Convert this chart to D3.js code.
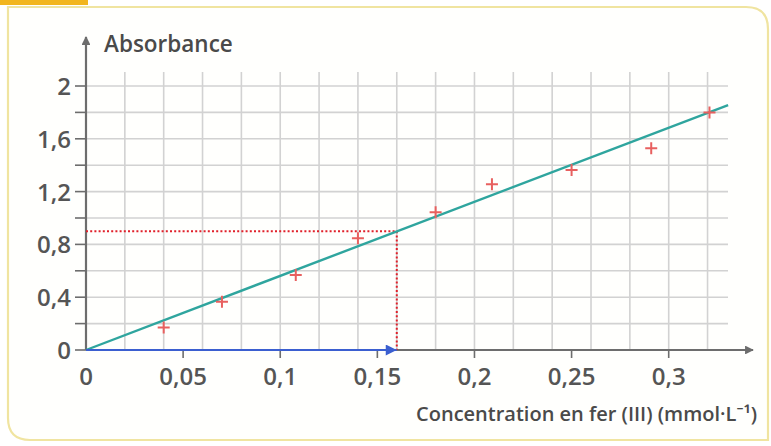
<!DOCTYPE html>
<html>
<head>
<meta charset="utf-8">
<script src="https://cdn.jsdelivr.net/npm/d3@7"></script>
<style>
  html, body { margin: 0; padding: 0; background: #ffffff; }
  svg { display: block; }
</style>
</head>
<body>
<svg id="chart" width="771" height="446"></svg>
<script>
// ---- data ----
const concentrations = [0.04, 0.07, 0.108, 0.14, 0.18, 0.209, 0.25, 0.291, 0.321];
const absorbances    = [0.17, 0.366, 0.568, 0.846, 1.043, 1.255, 1.364, 1.528, 1.80];
const fitLine = [[0, 0], [0.3306, 1.856]];
const readX = [0.16];
const readY = [0.9];
const xTickValues = [0, 0.05, 0.1, 0.15, 0.2, 0.25, 0.3];
const xTickLabels = ["0", "0,05", "0,1", "0,15", "0,2", "0,25", "0,3"];
const yTickValues = [0, 0.4, 0.8, 1.2, 1.6, 2];
const yTickLabels = ["0", "0,4", "0,8", "1,2", "1,6", "2"];
const yMinorTicks = [0, 0.2, 0.4, 0.6, 0.8, 1.0, 1.2, 1.4, 1.6, 1.8, 2.0];
const xGrid = [0.02, 0.04, 0.06, 0.08, 0.1, 0.12, 0.14, 0.16, 0.18, 0.2, 0.22, 0.24, 0.26, 0.28, 0.3, 0.32];
const yGrid = [0.2, 0.4, 0.6, 0.8, 1.0, 1.2, 1.4, 1.6, 1.8, 2.0];
const yTitle = "Absorbance";
const xTitle = "Concentration en fer (III) (mmol·L⁻¹)";

// ---- scales ----
const x = d3.scaleLinear().domain([0, 0.3]).range([86, 668.7]);
const y = d3.scaleLinear().domain([0, 2]).range([350, 86]);

const svg = d3.select("#chart");
const font = "'Open Sans', 'Noto Sans', sans-serif";

// ---- frame ----
const fx0 = 8, fy0 = 7, fx1 = 768, fy1 = 440, r = 22;
svg.append("path")
  .attr("d", `M${fx0},${fy0} L${fx1 - r},${fy0} Q${fx1},${fy0} ${fx1},${fy0 + r} L${fx1},${fy1} L${fx0 + r},${fy1} Q${fx0},${fy1} ${fx0},${fy1 - r} Z`)
  .attr("fill", "#fffffd")
  .attr("stroke", "#f0e4a0")
  .attr("stroke-width", 2.2);
svg.append("rect").attr("x", 0).attr("y", 0).attr("width", 88).attr("height", 5).attr("fill", "#f2b51d");

const defs = svg.append("defs");
defs.append("marker").attr("id", "grayArrow")
  .attr("viewBox", "0 0 10 10").attr("refX", 9).attr("refY", 5)
  .attr("markerWidth", 4).attr("markerHeight", 4).attr("orient", "auto")
  .append("path").attr("d", "M0,0 L10,5 L0,10 Z").attr("fill", "#6d6d6d");
defs.append("marker").attr("id", "blueArrow")
  .attr("viewBox", "0 0 10 10").attr("refX", 10).attr("refY", 5)
  .attr("markerWidth", 6).attr("markerHeight", 5).attr("orient", "auto")
  .attr("markerUnits", "strokeWidth")
  .append("path").attr("d", "M0,0 L10,5 L0,10 Z").attr("fill", "#3b5fd0");

// ---- grid ----
const gridTop = 72, gridRight = 728;
svg.append("g").selectAll("line").data(xGrid).join("line")
  .attr("x1", d => x(d)).attr("x2", d => x(d))
  .attr("y1", y(0)).attr("y2", gridTop)
  .attr("stroke", "#d2d2d2").attr("stroke-width", 1.6);
svg.append("g").selectAll("line").data(yGrid).join("line")
  .attr("x1", x(0)).attr("x2", gridRight)
  .attr("y1", d => y(d)).attr("y2", d => y(d))
  .attr("stroke", "#d2d2d2").attr("stroke-width", 1.6);

// ---- y ticks ----
svg.append("g").selectAll("line").data(yMinorTicks).join("line")
  .attr("x1", 75).attr("x2", x(0))
  .attr("y1", d => y(d)).attr("y2", d => y(d))
  .attr("stroke", "#6d6d6d").attr("stroke-width", 1.6);
svg.append("g").selectAll("text").data(yTickValues).join("text")
  .attr("x", 71).attr("y", d => y(d) + 9)
  .attr("text-anchor", "end")
  .attr("font-family", font).attr("font-size", 24).attr("font-weight", 600)
  .attr("fill", "#555").text((d, i) => yTickLabels[i]);

// ---- x ticks ----
svg.append("g").selectAll("line").data(xTickValues.slice(1)).join("line")
  .attr("x1", d => x(d)).attr("x2", d => x(d))
  .attr("y1", y(0)).attr("y2", y(0) + 8)
  .attr("stroke", "#6d6d6d").attr("stroke-width", 1.6);
svg.append("g").selectAll("text").data(xTickValues).join("text")
  .attr("x", d => x(d)).attr("y", 385)
  .attr("text-anchor", "middle")
  .attr("font-family", font).attr("font-size", 24).attr("font-weight", 600)
  .attr("fill", "#555").text((d, i) => xTickLabels[i]);

// ---- axes ----
svg.append("line").attr("x1", x(0)).attr("x2", x(0)).attr("y1", y(0)).attr("y2", 37)
  .attr("stroke", "#6d6d6d").attr("stroke-width", 2.2).attr("marker-end", "url(#grayArrow)");
svg.append("line").attr("x1", x(0)).attr("x2", 753).attr("y1", y(0)).attr("y2", y(0))
  .attr("stroke", "#6d6d6d").attr("stroke-width", 2.2).attr("marker-end", "url(#grayArrow)");

// ---- titles ----
svg.append("text").attr("x", 104).attr("y", 52)
  .attr("font-family", font).attr("font-size", 22.5).attr("font-weight", 600)
  .attr("fill", "#4a4a4a").text(yTitle);
svg.append("text").attr("x", 757).attr("y", 421).attr("text-anchor", "end")
  .attr("font-family", font).attr("font-size", 20).attr("font-weight", 600)
  .attr("fill", "#4a4a4a").text(xTitle);

// ---- reading lines ----
svg.append("line").attr("x1", x(0)).attr("x2", x(readX[0]))
  .attr("y1", y(readY[0])).attr("y2", y(readY[0]))
  .attr("stroke", "#e0202a").attr("stroke-width", 2).attr("stroke-dasharray", "2,2.2");
svg.append("line").attr("x1", x(readX[0])).attr("x2", x(readX[0]))
  .attr("y1", y(readY[0])).attr("y2", y(0))
  .attr("stroke", "#e0202a").attr("stroke-width", 2).attr("stroke-dasharray", "2,2.2");

// ---- fit line ----
svg.append("path")
  .datum(fitLine)
  .attr("d", d3.line().x(d => x(d[0])).y(d => y(d[1])))
  .attr("fill", "none").attr("stroke", "#2fa59e").attr("stroke-width", 2.4);

// ---- blue arrow ----
svg.append("line").attr("x1", x(0)).attr("x2", x(readX[0]))
  .attr("y1", y(0)).attr("y2", y(0))
  .attr("stroke", "#3b5fd0").attr("stroke-width", 2.2).attr("marker-end", "url(#blueArrow)");

// ---- measured points ----
const pts = concentrations.map((c, i) => [c, absorbances[i]]);
svg.append("g").selectAll("path").data(pts).join("path")
  .attr("transform", d => `translate(${x(d[0])},${y(d[1])})`)
  .attr("d", d3.symbol().type({draw(ctx) { ctx.moveTo(-6, 0); ctx.lineTo(6, 0); ctx.moveTo(0, -6); ctx.lineTo(0, 6); }}))
  .attr("stroke", "#e8605f").attr("stroke-width", 2).attr("fill", "none");
</script>
</body>
</html>
